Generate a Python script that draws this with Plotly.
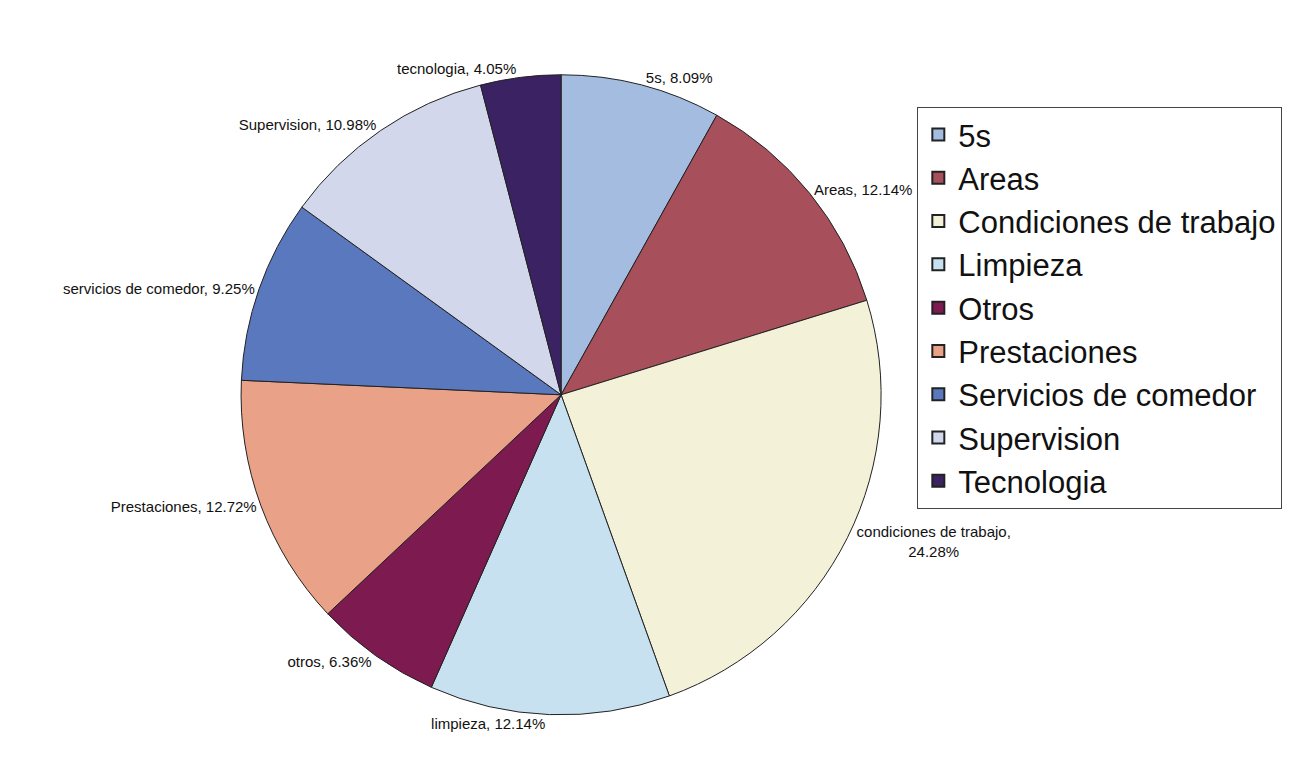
import plotly.graph_objects as go

categories = ["5s", "Areas", "Condiciones de trabajo", "Limpieza", "Otros",
              "Prestaciones", "Servicios de comedor", "Supervision", "Tecnologia"]
slice_labels = ["5s", "Areas", "condiciones de trabajo,<br>", "limpieza", "otros",
                "Prestaciones", "servicios de comedor", "Supervision", "tecnologia"]
values = [8.09, 12.14, 24.28, 12.14, 6.36, 12.72, 9.25, 10.98, 4.05]
colors = ["#A3BCE0", "#A84F5C", "#F3F1D8", "#C8E1F0", "#7D1A4F",
          "#E9A187", "#5A78BE", "#D2D7EB", "#3B2263"]

texts = []
for lab, v in zip(slice_labels, values):
    sep = "" if lab.endswith("<br>") else ", "
    texts.append(f"{lab}{sep}{v:.2f}%")

fig = go.Figure(go.Pie(
    labels=categories,
    values=values,
    text=texts,
    textinfo="text",
    textposition="outside",
    sort=False,
    direction="clockwise",
    rotation=0,
    marker=dict(colors=colors, line=dict(color="#222222", width=1)),
    outsidetextfont=dict(family="Liberation Sans, Arial", size=15, color="#111111"),
    domain=dict(x=[0.1772, 0.6640], y=[0.0950, 0.9145]),
    hoverinfo="label+percent",
))

fig.update_layout(
    width=1315, height=781,
    margin=dict(l=0, r=0, t=0, b=0),
    paper_bgcolor="white",
    plot_bgcolor="white",
    showlegend=True,
    legend=dict(
        x=0.6915, y=0.8735, xanchor="left", yanchor="top",
        font=dict(family="Liberation Sans, Arial", size=31, color="#111111"),
        bordercolor="#444444", borderwidth=1,
        bgcolor="rgba(255,255,255,0)",
        itemsizing="constant",
    ),
)

fig.write_html("out.html")
